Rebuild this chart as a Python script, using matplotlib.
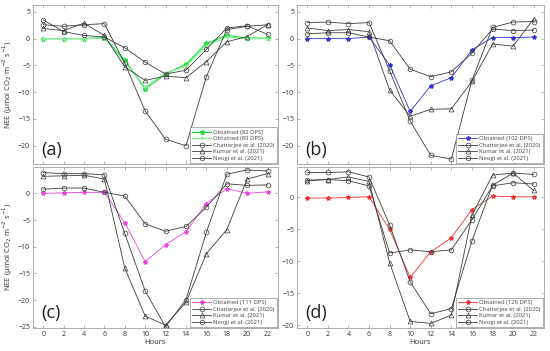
#%% imports

import matplotlib
matplotlib.use('Agg')
import matplotlib.pyplot as plt

#%% data

hours = [0, 2, 4, 6, 8, 10, 12, 14, 16, 18, 20, 22]

# (a)
obt_82 = [0, 0, 0, 0.2, -4.0, -9.4, -6.6, -4.8, -0.9, 0.6, 0.1, 0.1]
obt_89 = [0, 0, 0, 0.1, -4.4, -9.0, -6.4, -5.2, -1.3, 0.3, 0.0, 0.0]
chat_a = [2.6, 2.3, 2.6, 2.8, -4.6, -13.5, -18.8, -20.0, -7.1, 1.7, 2.3, 2.6]
kumar_a = [1.9, 1.5, 2.9, 0.6, -5.3, -7.8, -7.0, -7.3, -4.3, -0.6, 0.4, 2.6]
neogi_a = [3.5, 1.3, 0.6, 0.3, -1.7, -4.4, -6.6, -5.9, -2.0, 2.0, 2.4, 0.8]

# (b)
obt_102 = [0, 0, 0, 0.3, -4.9, -13.6, -8.8, -7.3, -2.1, 0.2, 0.2, 0.3]
chat_b = [3.0, 3.1, 2.8, 3.0, -6.0, -15.4, -21.8, -22.5, -7.8, 2.1, 3.1, 3.2]
kumar_b = [2.0, 1.5, 1.7, 1.3, -9.6, -14.5, -13.2, -13.1, -8.0, -1.0, -1.4, 3.7]
neogi_b = [0.9, 1.1, 1.1, 0.3, -0.4, -5.7, -7.1, -6.2, -2.7, 1.8, 1.5, 1.6]

# (c)
obt_111 = [0, 0.1, 0.2, 0.2, -5.5, -12.8, -9.6, -7.2, -1.9, 0.9, 0.0, 0.3]
chat_c = [3.9, 3.7, 3.7, 3.5, -7.5, -18.3, -25.0, -19.9, -7.3, 3.6, 4.4, 4.2]
kumar_c = [3.2, 3.3, 3.4, 2.7, -14.0, -23.0, -24.7, -20.4, -11.3, -6.8, 2.7, 3.7]
neogi_c = [0.8, 1.0, 1.0, 0.2, -0.5, -5.7, -7.1, -6.2, -2.6, 1.8, 1.5, 1.6]

# (d)
obt_126 = [-0.1, -0.1, 0.0, 0.1, -5.0, -12.5, -8.5, -6.3, -1.9, 0.2, 0.1, 0.1]
chat_d = [3.9, 3.9, 4.0, 3.2, -4.3, -13.2, -18.2, -17.4, -6.8, 1.9, 3.8, 3.6]
kumar_d = [2.6, 2.8, 3.2, 2.5, -10.2, -19.4, -19.7, -18.4, -2.8, 3.5, 3.8, 1.1]
neogi_d = [2.7, 2.8, 2.6, 1.8, -8.7, -8.2, -8.5, -8.2, -3.5, 1.8, 2.3, 2.1]

#%% plot

plt.rcParams['font.family'] = ['Open Sans', 'DejaVu Sans']

fig = plt.figure(figsize=(5.5, 3.51), dpi=100)

gray = '#3c3c3c'
edge = '#a0a0a0'
tcol = '#333333'


def ref_lines(ax, chat, kumar, neogi):
    kw = dict(color=gray, lw=0.6, mfc='none', mec=gray, mew=0.5, ms=3.5)
    ax.plot(hours, chat, marker='o', label='Chatterjee et al. (2020)', **kw)
    ax.plot(hours, kumar, marker='^', label='Kumar et al. (2021)', **kw)
    ax.plot(hours, neogi, marker='8', label='Neogi et al. (2021)', **kw)


def style(ax, ylim, yticks, letter, bottom, left):
    ax.set_xlim(-1, 23)
    ax.set_ylim(*ylim)
    ax.set_xticks(hours)
    ax.set_yticks(yticks)
    ax.tick_params(direction='in', length=2.5, width=0.5, color=edge,
                   labelsize=5, labelcolor=tcol, top=True, right=True, pad=2)
    for s in ax.spines.values():
        s.set_color(edge)
        s.set_linewidth(0.6)
    if bottom:
        ax.set_xlabel('Hours', fontsize=5.5, color=tcol, labelpad=1)
    else:
        ax.set_xticklabels([])
    if left:
        ax.set_ylabel('NEE (μmol CO$_2$ m$^{-2}$ s$^{-1}$)', fontsize=5.5,
                      color=tcol, labelpad=2)
    ax.text(0.035, 0.09, letter, transform=ax.transAxes, fontsize=13,
            color='#222222', va='center', ha='left')
    leg = ax.legend(loc='lower right', fontsize=4.2, borderaxespad=0.15,
                    fancybox=False, handlelength=3.2, labelspacing=0.25,
                    borderpad=0.4, handletextpad=0.4)
    leg.get_frame().set_edgecolor('#777777')
    leg.get_frame().set_linewidth(0.5)
    for t in leg.get_texts():
        t.set_color('#444444')


ax_a = fig.add_axes([0.06, 0.533, 0.445, 0.453])
ax_a.plot(hours, obt_82, color='#22dd44', lw=0.9, marker='*', ms=3.5,
          label='Obtained (82 DPS)')
ax_a.plot(hours, obt_89, color='#88ee99', lw=0.9, marker='+', ms=3.5,
          label='Obtained (89 DPS)')
ref_lines(ax_a, chat_a, kumar_a, neogi_a)
style(ax_a, (-23.4, 6.3), [-20, -15, -10, -5, 0, 5], '(a)', False, True)

ax_b = fig.add_axes([0.54, 0.533, 0.449, 0.453])
ax_b.plot(hours, obt_102, color='#3333cc', lw=0.6, marker='*', ms=3,
          label='Obtained (102 DPS)')
ref_lines(ax_b, chat_b, kumar_b, neogi_b)
style(ax_b, (-23.4, 6.3), [-20, -15, -10, -5, 0, 5], '(b)', False, False)

ax_c = fig.add_axes([0.06, 0.066, 0.445, 0.459])
ax_c.plot(hours, obt_111, color='#ee44dd', lw=0.6, marker='*', ms=3,
          label='Obtained (111 DPS)')
ref_lines(ax_c, chat_c, kumar_c, neogi_c)
style(ax_c, (-25.2, 5.0), [-25, -20, -15, -10, -5, 0], '(c)', True, True)

ax_d = fig.add_axes([0.54, 0.066, 0.449, 0.459])
ax_d.plot(hours, obt_126, color='#ee3333', lw=0.6, marker='*', ms=3,
          label='Obtained (126 DPS)')
ref_lines(ax_d, chat_d, kumar_d, neogi_d)
style(ax_d, (-20.4, 4.8), [-20, -15, -10, -5, 0], '(d)', True, False)

plt.savefig('out.png', dpi=100)
